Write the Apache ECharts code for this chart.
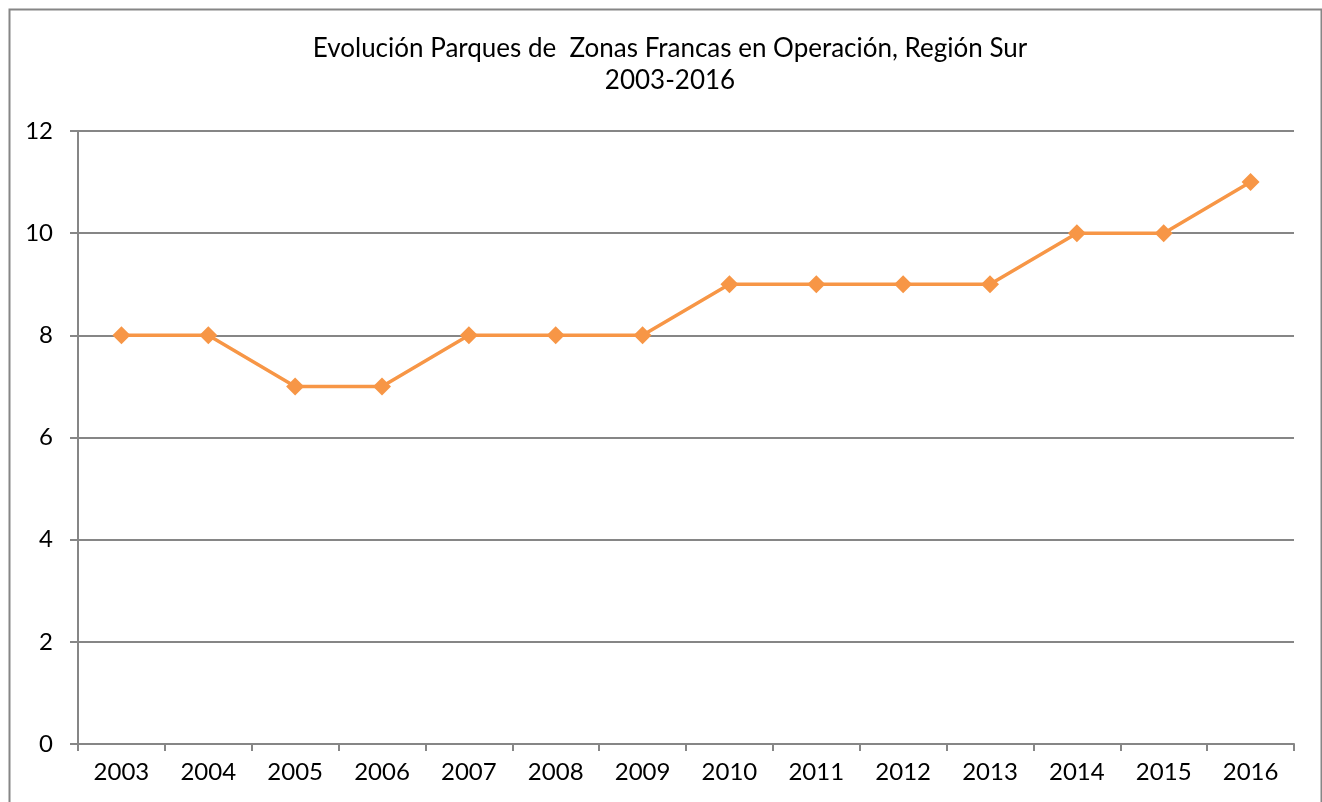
<!DOCTYPE html>
<html>
<head>
<meta charset="utf-8">
<script src="https://cdn.jsdelivr.net/npm/echarts@6/dist/echarts.min.js"></script>
<style>
  html, body { margin: 0; padding: 0; background: #fff; }
  #main { width: 1322px; height: 802px; }
</style>
</head>
<body>
<div id="main"></div>
<script>
// datos
const years = ['2003', '2004', '2005', '2006', '2007', '2008', '2009', '2010', '2011', '2012', '2013', '2014', '2015', '2016'];
const parques = [8, 8, 7, 7, 8, 8, 8, 9, 9, 9, 9, 10, 10, 11];
const titleLines = ['Evolución Parques de  Zonas Francas en Operación, Región Sur', '2003-2016'];

const chart = echarts.init(document.getElementById('main'));
const font = 'Lato, "Open Sans", sans-serif';

chart.setOption({
  animation: false,
  title: {
    text: titleLines.join('\n'),
    left: 665,
    top: 28,
    textAlign: 'center',
    textStyle: {
      fontFamily: font,
      fontSize: 26,
      fontWeight: 'normal',
      color: '#000',
      lineHeight: 32
    }
  },
  graphic: [{
    type: 'rect',
    shape: { x: 9.5, y: 9.5, width: 1312, height: 820 },
    style: { fill: 'none', stroke: '#868686', lineWidth: 2 },
    silent: true
  }],
  grid: { left: 78, right: 28, top: 131, bottom: 58 },
  xAxis: {
    type: 'category',
    data: years,
    boundaryGap: true,
    axisLine: { lineStyle: { color: '#868686', width: 2 } },
    axisTick: { show: true, alignWithLabel: false, length: 7, lineStyle: { color: '#868686', width: 2 } },
    axisLabel: { color: '#000', fontFamily: font, fontSize: 24, margin: 16 }
  },
  yAxis: {
    type: 'value',
    min: 0,
    max: 12,
    interval: 2,
    axisLine: { show: true, lineStyle: { color: '#868686', width: 2 } },
    axisTick: { show: true, length: 8, lineStyle: { color: '#868686', width: 2 } },
    axisLabel: { color: '#000', fontFamily: font, fontSize: 24, margin: 25 },
    splitLine: { show: true, lineStyle: { color: '#868686', width: 2 } }
  },
  series: [{
    type: 'line',
    data: parques,
    symbol: 'diamond',
    symbolSize: 18,
    lineStyle: { color: '#F79646', width: 3.5 },
    itemStyle: { color: '#F79646' }
  }]
});
</script>
</body>
</html>
